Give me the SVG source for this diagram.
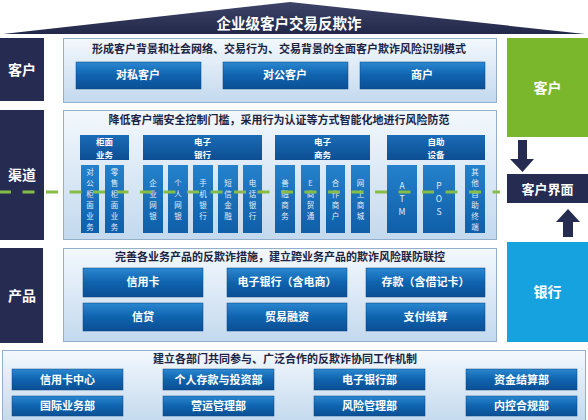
<svg xmlns="http://www.w3.org/2000/svg" width="588" height="420" viewBox="0 0 588 420">
<defs>
<linearGradient id="roofG" x1="0" y1="0" x2="0" y2="1"><stop offset="0" stop-color="#3d4468"/><stop offset="1" stop-color="#222849"/></linearGradient>
<linearGradient id="panelG" x1="0" y1="0" x2="0" y2="1"><stop offset="0" stop-color="#f3f8fd"/><stop offset="1" stop-color="#c3d9ee"/></linearGradient>
<linearGradient id="boxG" x1="0" y1="0" x2="0" y2="1"><stop offset="0" stop-color="#2a88d0"/><stop offset="0.5" stop-color="#0f63ae"/><stop offset="1" stop-color="#0b4f94"/></linearGradient>
<linearGradient id="catG" x1="0" y1="0" x2="0" y2="1"><stop offset="0" stop-color="#1a6cb6"/><stop offset="1" stop-color="#0c4e93"/></linearGradient>
<linearGradient id="itemG" x1="0" y1="0" x2="0" y2="1"><stop offset="0" stop-color="#2581cb"/><stop offset="1" stop-color="#0f5ea8"/></linearGradient>
<style>
.t{font-family:"Noto Sans CJK SC","Noto Sans",sans-serif;}
.nav{fill:#252b51;}
.panel{fill:url(#panelG);stroke:#93afcc;stroke-width:1;}
.box{fill:url(#boxG);stroke:#0a4683;stroke-width:0.5;}
.cat{fill:url(#catG);}
.item{fill:url(#itemG);}
.hd{font-size:11px;font-weight:bold;fill:#1c2442;text-anchor:middle;}
.bt{font-size:11px;font-weight:bold;fill:#ffffff;text-anchor:middle;}
.lb{font-size:14px;font-weight:bold;fill:#ffffff;text-anchor:middle;}
.ct{font-size:8.5px;font-weight:bold;fill:#ffffff;text-anchor:middle;}
.vt{font-size:7.5px;fill:#e2edf9;text-anchor:middle;}
.vs{font-size:8.5px;fill:#e2edf9;text-anchor:middle;}
.arr{fill:#252b51;}
.dash{fill:none;stroke:#86bd45;stroke-width:3;stroke-dasharray:12 11.5;stroke-dashoffset:1;}
</style>
</defs>
<rect x="0" y="0" width="588" height="420" fill="#ffffff"/>

<g id="roof">
<polygon points="3,34 290,2 585,34" fill="url(#roofG)"/>
<text class="t" x="289" y="29" font-size="14.5" font-weight="bold" fill="#ffffff" text-anchor="middle">企业级客户交易反欺诈</text>
</g>

<g id="label-customer"><rect class="nav" x="0" y="38" width="44" height="63"/><text class="t lb" x="22" y="75">客户</text></g>
<g id="label-channel"><rect class="nav" x="0" y="110" width="44" height="130"/><text class="t lb" x="22" y="180">渠道</text></g>
<g id="label-product"><rect class="nav" x="0" y="248" width="43" height="95"/><text class="t lb" x="22" y="301">产品</text></g>

<g id="panel-customer">
<rect class="panel" x="63.5" y="38.5" width="433" height="64"/>
<text class="t hd" x="279" y="53">形成客户背景和社会网络、交易行为、交易背景的全面客户欺诈风险识别模式</text>
<g id="c-private"><rect class="box" x="76" y="62" width="125" height="27"/><text class="t bt" x="138" y="79">对私客户</text></g>
<g id="c-corp"><rect class="box" x="223" y="62" width="125" height="27"/><text class="t bt" x="285" y="79">对公客户</text></g>
<g id="c-merchant"><rect class="box" x="360" y="62" width="125" height="27"/><text class="t bt" x="422" y="79">商户</text></g>
</g>

<g id="panel-channel">
<rect class="panel" x="63.5" y="110.5" width="433" height="129"/>
<text class="t hd" x="279" y="124">降低客户端安全控制门槛，采用行为认证等方式智能化地进行风险防范</text>
<g id="cat-counter"><rect class="cat" x="80" y="135" width="49" height="25"/><text class="t ct" x="104.5" y="145"><tspan x="104.5">柜面</tspan><tspan x="104.5" dy="12.5">业务</tspan></text></g>
<g id="cat-ebank"><rect class="cat" x="143" y="135" width="119" height="25"/><text class="t ct" x="202.5" y="145"><tspan x="202.5">电子</tspan><tspan x="202.5" dy="12.5">银行</tspan></text></g>
<g id="cat-ecom"><rect class="cat" x="275" y="135" width="95" height="25"/><text class="t ct" x="322.5" y="145"><tspan x="322.5">电子</tspan><tspan x="322.5" dy="12.5">商务</tspan></text></g>
<g id="cat-self"><rect class="cat" x="387" y="135" width="98" height="25"/><text class="t ct" x="436" y="145"><tspan x="436">自助</tspan><tspan x="436" dy="12.5">设备</tspan></text></g>

<g id="i-corpcounter"><rect class="item" x="81" y="165" width="18" height="68"/><text class="t vt" x="90" y="175"><tspan x="90">对</tspan><tspan x="90" dy="11">公</tspan><tspan x="90" dy="11">柜</tspan><tspan x="90" dy="11">面</tspan><tspan x="90" dy="11">业</tspan><tspan x="90" dy="11">务</tspan></text></g>
<g id="i-retailcounter"><rect class="item" x="105" y="165" width="19" height="68"/><text class="t vt" x="114.5" y="175"><tspan x="114.5">零</tspan><tspan x="114.5" dy="11">售</tspan><tspan x="114.5" dy="11">柜</tspan><tspan x="114.5" dy="11">面</tspan><tspan x="114.5" dy="11">业</tspan><tspan x="114.5" dy="11">务</tspan></text></g>
<g id="i-corpnet"><rect class="item" x="143" y="165" width="20" height="68"/><text class="t vt" x="153" y="186"><tspan x="153">企</tspan><tspan x="153" dy="11">业</tspan><tspan x="153" dy="11">网</tspan><tspan x="153" dy="11">银</tspan></text></g>
<g id="i-personnet"><rect class="item" x="168" y="165" width="20" height="68"/><text class="t vt" x="178" y="186"><tspan x="178">个</tspan><tspan x="178" dy="11">人</tspan><tspan x="178" dy="11">网</tspan><tspan x="178" dy="11">银</tspan></text></g>
<g id="i-mobile"><rect class="item" x="193" y="165" width="20" height="68"/><text class="t vt" x="203" y="186"><tspan x="203">手</tspan><tspan x="203" dy="11">机</tspan><tspan x="203" dy="11">银</tspan><tspan x="203" dy="11">行</tspan></text></g>
<g id="i-sms"><rect class="item" x="218" y="165" width="20" height="68"/><text class="t vt" x="228" y="186"><tspan x="228">短</tspan><tspan x="228" dy="11">信</tspan><tspan x="228" dy="11">金</tspan><tspan x="228" dy="11">融</tspan></text></g>
<g id="i-phone"><rect class="item" x="243" y="165" width="19" height="68"/><text class="t vt" x="252.5" y="186"><tspan x="252.5">电</tspan><tspan x="252.5" dy="11">话</tspan><tspan x="252.5" dy="11">银</tspan><tspan x="252.5" dy="11">行</tspan></text></g>
<g id="i-shanrong"><rect class="item" x="275" y="165" width="20" height="68"/><text class="t vt" x="285" y="186"><tspan x="285">善</tspan><tspan x="285" dy="11">融</tspan><tspan x="285" dy="11">商</tspan><tspan x="285" dy="11">务</tspan></text></g>
<g id="i-etrade"><rect class="item" x="301" y="165" width="19" height="68"/><text class="t vt" x="310.5" y="186"><tspan x="310.5">E</tspan><tspan x="310.5" dy="11">商</tspan><tspan x="310.5" dy="11">贸</tspan><tspan x="310.5" dy="11">通</tspan></text></g>
<g id="i-partner"><rect class="item" x="326" y="165" width="19" height="68"/><text class="t vt" x="335.5" y="186"><tspan x="335.5">合</tspan><tspan x="335.5" dy="11">作</tspan><tspan x="335.5" dy="11">商</tspan><tspan x="335.5" dy="11">户</tspan></text></g>
<g id="i-mall"><rect class="item" x="351" y="165" width="19" height="68"/><text class="t vt" x="360.5" y="186"><tspan x="360.5">网</tspan><tspan x="360.5" dy="11">上</tspan><tspan x="360.5" dy="11">商</tspan><tspan x="360.5" dy="11">城</tspan></text></g>
<g id="i-atm"><rect class="item" x="387" y="165" width="30" height="68"/><text class="t vs" x="402" y="189"><tspan x="402">A</tspan><tspan x="402" dy="13">T</tspan><tspan x="402" dy="13">M</tspan></text></g>
<g id="i-pos"><rect class="item" x="423" y="165" width="32" height="68"/><text class="t vs" x="439" y="189"><tspan x="439">P</tspan><tspan x="439" dy="13">O</tspan><tspan x="439" dy="13">S</tspan></text></g>
<g id="i-other"><rect class="item" x="465" y="165" width="20" height="68"/><text class="t vt" x="475" y="175"><tspan x="475">其</tspan><tspan x="475" dy="11">他</tspan><tspan x="475" dy="11">自</tspan><tspan x="475" dy="11">助</tspan><tspan x="475" dy="11">终</tspan><tspan x="475" dy="11">端</tspan></text></g>
</g>

<g id="panel-product">
<rect class="panel" x="63.5" y="248.5" width="433" height="93"/>
<text class="t hd" x="280" y="261">完善各业务产品的反欺诈措施，建立跨业务产品的欺诈风险联防联控</text>
<g id="p-card"><rect class="box" x="83" y="268" width="120" height="29"/><text class="t bt" x="143" y="286">信用卡</text></g>
<g id="p-ebank"><rect class="box" x="227" y="268" width="120" height="29"/><text class="t bt" x="287" y="286">电子银行（含电商）</text></g>
<g id="p-deposit"><rect class="box" x="366" y="268" width="119" height="29"/><text class="t bt" x="425.5" y="286">存款（含借记卡）</text></g>
<g id="p-loan"><rect class="box" x="83" y="303" width="120" height="28"/><text class="t bt" x="143" y="321">信贷</text></g>
<g id="p-trade"><rect class="box" x="227" y="303" width="120" height="28"/><text class="t bt" x="287" y="321">贸易融资</text></g>
<g id="p-pay"><rect class="box" x="366" y="303" width="119" height="28"/><text class="t bt" x="425.5" y="321">支付结算</text></g>
</g>

<g id="panel-dept">
<rect class="panel" x="2.5" y="350.5" width="583" height="72"/>
<text class="t hd" x="285" y="363">建立各部门共同参与、广泛合作的反欺诈协同工作机制</text>
<g id="d-card"><rect class="box" x="12" y="369" width="111" height="21"/><text class="t bt" x="67.5" y="383.5">信用卡中心</text></g>
<g id="d-deposit"><rect class="box" x="163" y="369" width="111" height="21"/><text class="t bt" x="218.5" y="383.5">个人存款与投资部</text></g>
<g id="d-ebank"><rect class="box" x="314" y="369" width="111" height="21"/><text class="t bt" x="369.5" y="383.5">电子银行部</text></g>
<g id="d-settle"><rect class="box" x="466" y="369" width="111" height="21"/><text class="t bt" x="521.5" y="383.5">资金结算部</text></g>
<g id="d-intl"><rect class="box" x="12" y="396" width="111" height="20"/><text class="t bt" x="67.5" y="410">国际业务部</text></g>
<g id="d-ops"><rect class="box" x="163" y="396" width="111" height="20"/><text class="t bt" x="218.5" y="410">营运管理部</text></g>
<g id="d-risk"><rect class="box" x="314" y="396" width="111" height="20"/><text class="t bt" x="369.5" y="410">风险管理部</text></g>
<g id="d-control"><rect class="box" x="466" y="396" width="111" height="20"/><text class="t bt" x="521.5" y="410">内控合规部</text></g>
</g>

<g id="r-customer"><rect x="507" y="38" width="81" height="99" fill="#7ab72d"/><text class="t" x="547.5" y="93" font-size="14" font-weight="bold" fill="#ffffff" text-anchor="middle">客户</text></g>
<g id="r-interface"><rect class="nav" x="507" y="174" width="81" height="29"/><text class="t" x="547.5" y="193.5" font-size="13" font-weight="bold" fill="#ffffff" text-anchor="middle">客户界面</text></g>
<g id="r-bank"><rect x="507" y="242" width="81" height="100" fill="#16a2de"/><text class="t" x="547.5" y="297" font-size="14" font-weight="bold" fill="#ffffff" text-anchor="middle">银行</text></g>

<g id="connectors">
<path class="dash" d="M0 192 H500"/>
<polygon class="arr" points="518,140 527,140 527,159 534,159 522.5,172 510,159 518,159"/>
<polygon class="arr" points="563,237 573,237 573,222 580,222 568,209 556,222 563,222"/>
</g>
</svg>
